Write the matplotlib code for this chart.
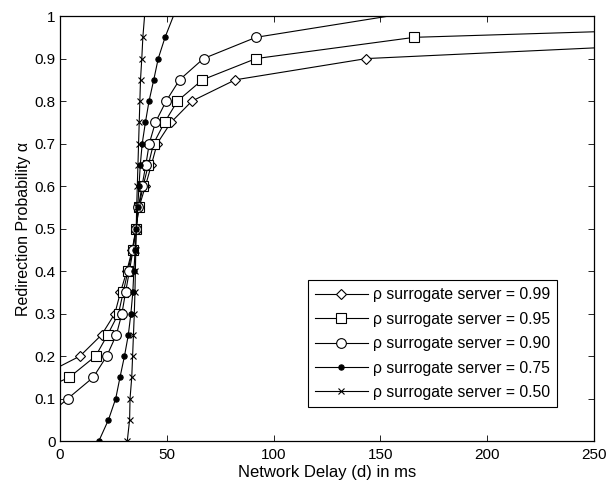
import numpy as np
import matplotlib
matplotlib.use("Agg")
import matplotlib.pyplot as plt

plt.rcParams['font.family'] = ['Liberation Sans', 'DejaVu Sans']

# values; first/last points of some series lie outside the axes
alpha_99 = [0.15, 0.20, 0.25, 0.30, 0.35, 0.40, 0.45, 0.50, 0.55, 0.60, 0.65, 0.70, 0.75, 0.80, 0.85, 0.90, 0.95]
delay_99 = [-10.0, 9.4, 19.5, 25.7, 28.3, 31.3, 33.8, 35.6, 37.0, 40.0, 42.8, 45.5, 52.0, 61.8, 82.1, 143.5, 356.0]

alpha_95 = [0.10, 0.15, 0.20, 0.25, 0.30, 0.35, 0.40, 0.45, 0.50, 0.55, 0.60, 0.65, 0.70, 0.75, 0.80, 0.85, 0.90, 0.95, 1.00]
delay_95 = [-17.6, 4.4, 16.7, 22.3, 27.4, 29.6, 31.8, 34.0, 35.6, 36.9, 38.9, 41.4, 43.8, 49.0, 55.0, 66.7, 91.8, 166.0, 489.0]

alpha_90 = [0.05, 0.10, 0.15, 0.20, 0.25, 0.30, 0.35, 0.40, 0.45, 0.50, 0.55, 0.60, 0.65, 0.70, 0.75, 0.80, 0.85, 0.90, 0.95, 1.00]
delay_90 = [-8.0, 3.7, 15.6, 21.9, 26.4, 29.0, 30.7, 32.5, 34.2, 35.6, 36.7, 38.4, 40.2, 41.8, 44.7, 49.7, 56.0, 67.2, 91.8, 154.0]

alpha_75 = [0.00, 0.05, 0.10, 0.15, 0.20, 0.25, 0.30, 0.35, 0.40, 0.45, 0.50, 0.55, 0.60, 0.65, 0.70, 0.75, 0.80, 0.85, 0.90, 0.95, 1.00]
delay_75 = [18.2, 22.7, 26.1, 28.1, 30.2, 32.0, 33.2, 34.1, 34.6, 35.2, 35.8, 36.4, 37.0, 37.6, 38.5, 40.0, 41.7, 43.9, 46.0, 49.2, 53.1]

alpha_50 = [0.00, 0.05, 0.10, 0.15, 0.20, 0.25, 0.30, 0.35, 0.40, 0.45, 0.50, 0.55, 0.60, 0.65, 0.70, 0.75, 0.80, 0.85, 0.90, 0.95, 1.00]
delay_50 = [31.5, 32.6, 32.8, 33.6, 34.0, 34.4, 34.8, 35.1, 35.3, 35.5, 35.7, 35.9, 36.2, 36.5, 36.8, 37.1, 37.4, 37.7, 38.3, 38.8, 39.6]

x_ticks = [0, 50, 100, 150, 200, 250]
y_ticks = [0, 0.1, 0.2, 0.3, 0.4, 0.5, 0.6, 0.7, 0.8, 0.9, 1]
y_ticklabels = ['0', '0.1', '0.2', '0.3', '0.4', '0.5', '0.6', '0.7', '0.8', '0.9', '1']

fig = plt.figure(figsize=(6.06, 4.84), dpi=100)
ax = fig.add_axes([0.099, 0.0888, 0.881, 0.878])

lw = 0.8
kw = dict(color='black', linewidth=lw, markeredgewidth=0.8)
# markers only on the points that sit inside the axes
ax.plot(delay_99, alpha_99, marker='D', markersize=5.5, markerfacecolor='white',
        markevery=list(range(1, len(delay_99) - 1)), label='ρ surrogate server = 0.99', **kw)
ax.plot(delay_95, alpha_95, marker='s', markersize=7, markerfacecolor='white',
        markevery=list(range(1, len(delay_95) - 1)), label='ρ surrogate server = 0.95', **kw)
ax.plot(delay_90, alpha_90, marker='o', markersize=7, markerfacecolor='white',
        markevery=list(range(1, len(delay_90) - 1)), label='ρ surrogate server = 0.90', **kw)
ax.plot(delay_75, alpha_75, marker='o', markersize=3.8, markerfacecolor='black',
        markevery=list(range(0, len(delay_75) - 1)), label='ρ surrogate server = 0.75', **kw)
ax.plot(delay_50, alpha_50, marker='x', markersize=3.8,
        markevery=list(range(0, len(delay_50) - 1)), label='ρ surrogate server = 0.50', **kw)

ax.set_xlim(0, 250)
ax.set_ylim(0, 1)
ax.set_xticks(x_ticks)
ax.set_yticks(y_ticks)
ax.set_yticklabels(y_ticklabels)
ax.tick_params(direction='in', top=True, right=True, length=4, width=0.6,
               labelsize=11, pad=3)
ax.tick_params(axis='x', pad=5)
for s in ax.spines.values():
    s.set_linewidth(0.9)

ax.set_xlabel('Network Delay (d) in ms', fontsize=12, labelpad=2)
ax.set_ylabel('Redirection Probability α', fontsize=11.5, labelpad=3)

leg = ax.legend(loc='lower right', bbox_to_anchor=(0.931, 0.08), borderaxespad=0,
                fontsize=11.3, handlelength=3.4, labelspacing=0.6, handletextpad=0.3,
                fancybox=False, framealpha=1, edgecolor='black', borderpad=0.45)
leg.get_frame().set_linewidth(0.8)

fig.savefig('out.png', dpi=100)
